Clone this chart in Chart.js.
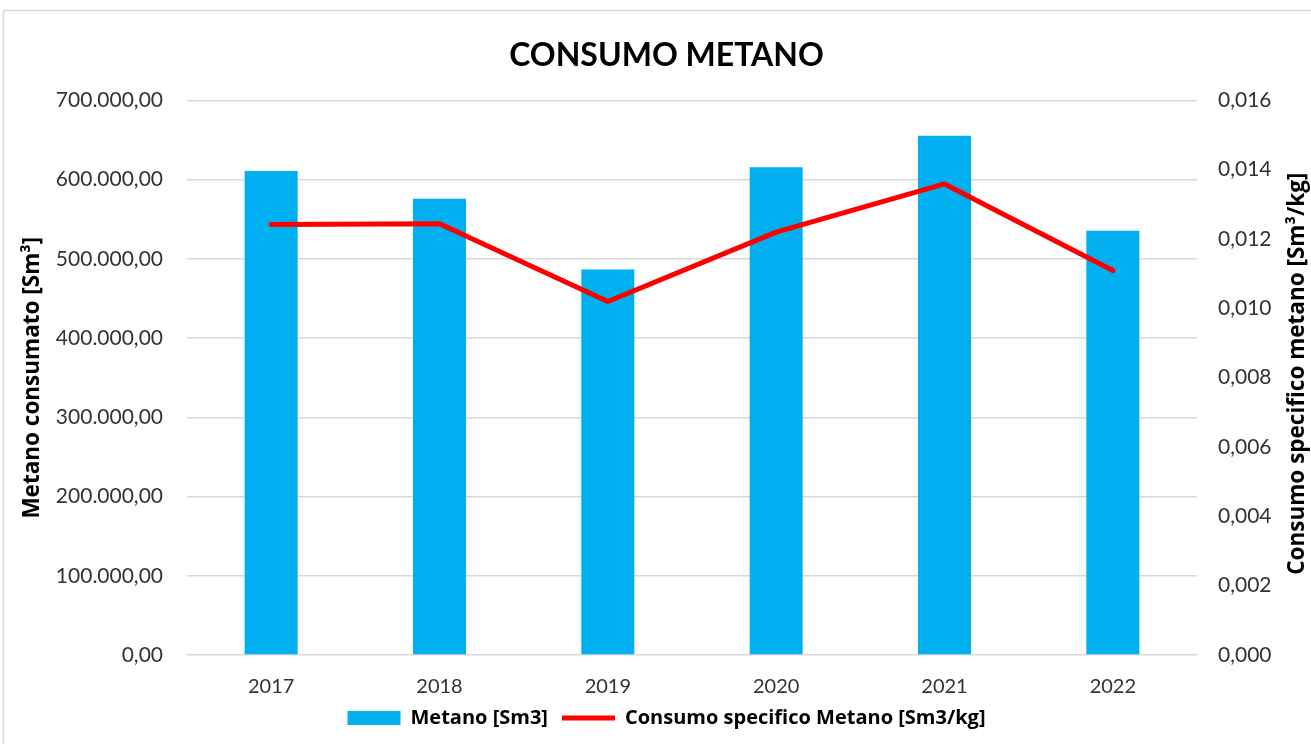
<!DOCTYPE html>
<html lang="it">
<head>
<meta charset="utf-8">
<title>Consumo metano</title>
<script src="https://cdn.jsdelivr.net/npm/chart.js@4.4.1/dist/chart.umd.min.js"></script>
<style>
  html, body { margin: 0; padding: 0; background: #fff; }
  #box { width: 1311px; height: 744px; position: relative; }
</style>
</head>
<body>
<div id="box"><canvas id="grafico"></canvas></div>
<script>
// ── Dati ─────────────────────────────────────────────────
const anni = ['2017', '2018', '2019', '2020', '2021', '2022'];
const metanoSm3 = [611000, 576000, 486500, 615500, 655500, 535500];
const consumoSpecifico = [0.01242, 0.01244, 0.01020, 0.01220, 0.01359, 0.01109];

const FONT = "Lato, 'Open Sans', sans-serif";
const FONT_TITOLI = "'Open Sans', Lato, sans-serif";

// formato italiano: 700.000,00
function formatoIt(v, dec) {
    const parti = Number(v).toFixed(dec).split('.');
    parti[0] = parti[0].replace(/\B(?=(\d{3})+(?!\d))/g, '.');
    return parti.join(',');
}

/* ── Cornice esterna + titoli degli assi ──────────────── */
function titoloVerticale(ctx, testo, x, y) {
    ctx.save();
    ctx.translate(x, y);
    ctx.rotate(-Math.PI / 2);
    ctx.font = `bold 22.5px ${FONT_TITOLI}`;
    ctx.fillStyle = '#000';
    ctx.textAlign = 'center';
    ctx.textBaseline = 'middle';
    ctx.fillText(testo, 0, 0);
    ctx.restore();
}

const decorazioni = {
    id: 'decorazioni',
    beforeDraw(chart) {
        const ctx = chart.ctx;
        ctx.save();
        ctx.fillStyle = '#fff';
        ctx.fillRect(0, 0, chart.width, chart.height);
        ctx.strokeStyle = '#d9d9d9';
        ctx.lineWidth = 1.5;
        ctx.strokeRect(3.5, 10.5, chart.width + 20, chart.height + 20);
        ctx.restore();
    },
    afterDraw(chart) {
        const { ctx, chartArea } = chart;
        const centroY = (chartArea.top + chartArea.bottom) / 2;
        titoloVerticale(ctx, 'Metano consumato [Sm³]', 33, centroY);
        titoloVerticale(ctx, 'Consumo specifico metano [Sm³/kg]', chart.scales.y2.right - 13, centroY - 4);
    }
};

new Chart(document.getElementById('grafico'), {
    data: {
        labels: anni,
        datasets: [
            {
                type: 'bar',
                label: 'Metano [Sm3]',
                data: metanoSm3,
                backgroundColor: '#00B0F0',
                borderWidth: 0,
                barPercentage: 0.315,
                categoryPercentage: 1,
                pointStyle: 'rect',
                yAxisID: 'y',
                order: 2
            },
            {
                type: 'line',
                label: 'Consumo specifico Metano [Sm3/kg]',
                data: consumoSpecifico,
                borderColor: '#FF0000',
                backgroundColor: '#FF0000',
                borderWidth: 5,
                borderCapStyle: 'round',
                borderJoinStyle: 'round',
                pointRadius: 0,
                pointStyle: 'line',
                tension: 0,
                yAxisID: 'y2',
                order: 1
            }
        ]
    },
    options: {
        responsive: true,
        maintainAspectRatio: false,
        animation: false,
        layout: { padding: { left: 22, right: 0, top: 0, bottom: 6 } },
        plugins: {
            title: {
                display: true,
                text: 'CONSUMO METANO',
                color: '#000',
                font: { family: FONT, size: 32, weight: 'bold' },
                padding: { top: 36, bottom: 26 }
            },
            legend: {
                position: 'bottom',
                labels: {
                    usePointStyle: true,
                    pointStyleWidth: 53,
                    boxHeight: 14,
                    padding: 14,
                    color: '#000',
                    font: { family: FONT_TITOLI, size: 20, weight: 'bold' },
                    sort: (a, b) => a.datasetIndex - b.datasetIndex
                }
            },
            tooltip: { enabled: false }
        },
        scales: {
            x: {
                afterFit: s => { s.height = 39; },
                grid: { display: false },
                border: { display: false },
                ticks: {
                    color: '#333',
                    padding: 12,
                    font: { family: FONT, size: 20 }
                }
            },
            y: {
                position: 'left',
                min: 0,
                max: 700000,
                afterFit: s => { s.width = 165; },
                grid: { color: '#d9d9d9', lineWidth: 1.5, drawTicks: false },
                border: { display: false },
                ticks: {
                    stepSize: 100000,
                    padding: 24,
                    color: '#333',
                    font: { family: FONT, size: 21 },
                    callback: v => formatoIt(v, 2)
                }
            },
            y2: {
                position: 'right',
                min: 0,
                max: 0.016,
                afterFit: s => { s.width = 114; },
                grid: { display: false, drawTicks: false },
                border: { display: false },
                ticks: {
                    stepSize: 0.002,
                    padding: 21,
                    color: '#333',
                    font: { family: FONT, size: 21 },
                    callback: v => formatoIt(v, 3)
                }
            }
        }
    },
    plugins: [decorazioni]
});
</script>
</body>
</html>
